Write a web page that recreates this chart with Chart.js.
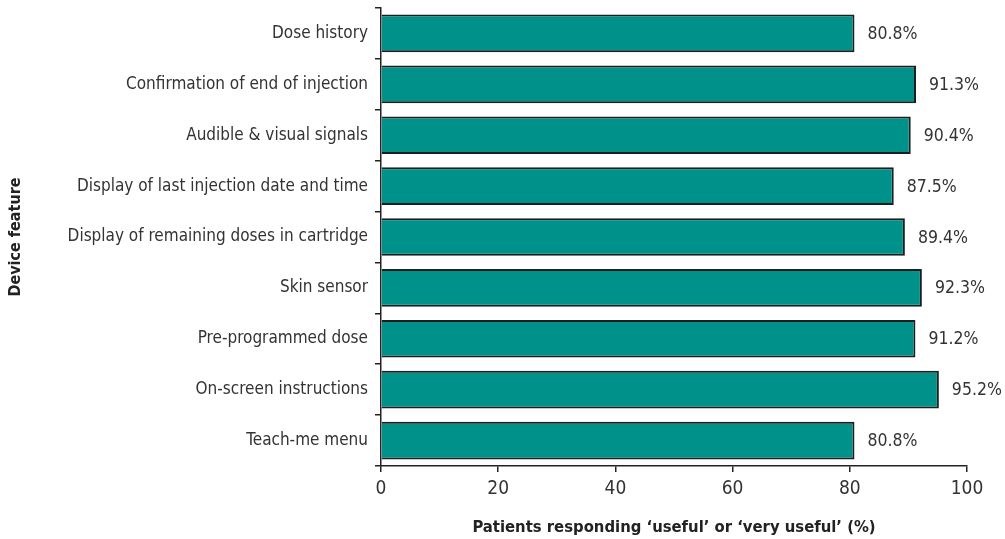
<!DOCTYPE html>
<html>
<head>
<meta charset="utf-8">
<script src="https://cdn.jsdelivr.net/npm/chart.js@4"></script>
<style>
  html, body { margin: 0; padding: 0; background: #fff; }
  #wrap { width: 1005px; height: 539px; }
</style>
</head>
<body>
<div id="wrap"><canvas id="features"></canvas></div>
<script>
const features = [
  'Dose history',
  'Confirmation of end of injection',
  'Audible & visual signals',
  'Display of last injection date and time',
  'Display of remaining doses in cartridge',
  'Skin sensor',
  'Pre-programmed dose',
  'On-screen instructions',
  'Teach-me menu'
];
const usefulPct = [80.8, 91.3, 90.4, 87.5, 89.4, 92.3, 91.2, 95.2, 80.8];
const xTicks = [0, 20, 40, 60, 80, 100];

const FONT = "'Liberation Sans Narrow', 'Arial Narrow', 'DejaVu Sans Condensed', sans-serif";

// draws the "80.8%" labels at the end of each bar
const valueLabels = {
  id: 'valueLabels',
  afterDatasetsDraw(chart) {
    const ctx = chart.ctx;
    const meta = chart.getDatasetMeta(0);
    ctx.save();
    ctx.font = '17.5px ' + FONT;
    ctx.fillStyle = '#333';
    ctx.textAlign = 'left';
    ctx.textBaseline = 'middle';
    meta.data.forEach((bar, i) => {
      ctx.fillText(usefulPct[i].toFixed(1) + '%', bar.x + 13, bar.y + 1);
    });
    ctx.restore();
  }
};

window.addEventListener("load", function() {
  new Chart(document.getElementById('features'), {
    type: 'bar',
    data: {
      labels: features,
      datasets: [{
        data: usefulPct,
        backgroundColor: '#00918a',
        borderColor: '#1e1e1e',
        borderWidth: 2,
        barPercentage: 0.74,
        categoryPercentage: 1.0
      }]
    },
    plugins: [valueLabels],
    options: {
      indexAxis: 'y',
      responsive: true,
      maintainAspectRatio: false,
      animation: false,
      layout: {
        padding: { top: 8, right: 38, bottom: 0, left: 4 }
      },
      plugins: {
        legend: { display: false },
        tooltip: { enabled: false }
      },
      scales: {
        x: {
          min: 0,
          max: 100,
          afterBuildTicks: axis => { axis.ticks = xTicks.map(v => ({ value: v })); },
          border: { color: '#222', width: 1.5 },
          grid: { drawOnChartArea: false, drawTicks: true, tickLength: 6, color: '#222', lineWidth: 1.5 },
          ticks: { color: '#333', font: { family: FONT, size: 19 }, padding: 6 },
          title: {
            display: true,
            text: 'Patients responding \u2018useful\u2019 or \u2018very useful\u2019 (%)',
            color: '#222',
            font: { family: FONT, size: 16.5, weight: 'bold' },
            padding: { top: 10, bottom: 1 }
          },
          afterFit: scale => { scale.height = 73; scale.paddingLeft = 0; scale.paddingRight = 0; }
        },
        y: {
          border: { color: '#222', width: 1.5 },
          grid: { drawOnChartArea: false, drawTicks: true, tickLength: 6, color: '#222', lineWidth: 1.5 },
          ticks: { color: '#333', font: { family: FONT, size: 17 }, padding: 7 },
          title: {
            display: true,
            text: 'Device feature',
            color: '#222',
            font: { family: FONT, size: 16, weight: 'bold' },
            padding: { top: 2, bottom: 0 }
          },
          afterFit: scale => { scale.width = 377; scale.paddingTop = 0; scale.paddingBottom = 0; }
        }
      }
    }
  });
});
</script>
</body>
</html>
